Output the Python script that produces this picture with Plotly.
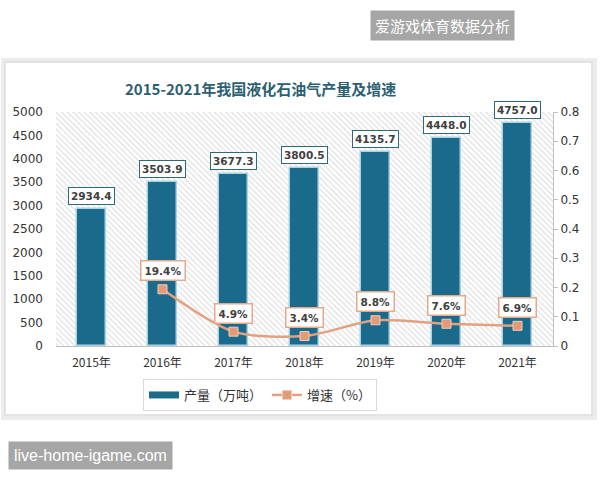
import plotly.graph_objects as go

years = ["2015年", "2016年", "2017年", "2018年", "2019年", "2020年", "2021年"]
output = [2934.4, 3503.9, 3677.3, 3800.5, 4135.7, 4448.0, 4757.0]
growth = [None, 0.194, 0.049, 0.034, 0.088, 0.076, 0.069]
growth_labels = [None, "19.4%", "4.9%", "3.4%", "8.8%", "7.6%", "6.9%"]
left_ticks = [0, 500, 1000, 1500, 2000, 2500, 3000, 3500, 4000, 4500, 5000]
right_ticks = [0, 0.1, 0.2, 0.3, 0.4, 0.5, 0.6, 0.7, 0.8]
right_tick_text = ["0", "0.1", "0.2", "0.3", "0.4", "0.5", "0.6", "0.7", "0.8"]
LEFT_MAX = 5000
RIGHT_MAX = 0.8

W, H = 600, 480
def px(x): return x / W
def py(y): return 1 - y / H

BAR = "#1a6a8c"
ORANGE = "#e4a182"
TXT = "#333333"
FONT = "Noto Sans CJK SC"

fig = go.Figure()

# hatched plot background
fig.add_trace(go.Bar(
    x=years, y=[LEFT_MAX] * len(years), width=1.0,
    marker=dict(color="white", line=dict(width=0),
                pattern=dict(shape="\\", fgcolor="#c0c0c0", bgcolor="white",
                             size=4, solidity=0.3)),
    showlegend=False, hoverinfo="skip",
))

fig.add_trace(go.Bar(
    x=years, y=output, width=0.41, name="产量（万吨）", showlegend=False,
    marker=dict(color=BAR, line=dict(color="#a9d2e2", width=1.5)),
))
# legend proxy for the bars (drawn as a thick dash like the reference)
fig.add_trace(go.Scatter(
    x=[None], y=[None], mode="lines", name="产量（万吨）",
    line=dict(color=BAR, width=7),
))

fig.add_trace(go.Scatter(
    x=years, y=growth, yaxis="y2", name="增速（%）",
    mode="lines+markers",
    line=dict(color=ORANGE, width=2.5, shape="spline", smoothing=0.8),
    marker=dict(symbol="square", size=9, color="#e29a78",
                line=dict(color="#f3cdb9", width=1)),
))

annotations = []
for yr, v in zip(years, output):
    annotations.append(dict(
        x=yr, y=v, xref="x", yref="y", text="<b>%.1f</b>" % v,
        showarrow=False, yanchor="bottom", yshift=4,
        font=dict(family="DejaVu Sans", size=10.5, color="#404040"),
        bgcolor="white", bordercolor="#2f6a7a", borderwidth=1, borderpad=2,
    ))
for yr, g, lab in zip(years, growth, growth_labels):
    if g is None:
        continue
    annotations.append(dict(
        x=yr, y=g, xref="x", yref="y2", text="<b>%s</b>" % lab,
        showarrow=False, yanchor="bottom", yshift=8,
        font=dict(family="DejaVu Sans", size=10.5, color="#404040"),
        bgcolor="white", bordercolor="#e3a98c", borderwidth=1.5, borderpad=3,
    ))

annotations.append(dict(
    x=px(260), y=py(88), xref="paper", yref="paper", xanchor="center",
    yanchor="middle",
    text="<b>2015-2021年我国液化石油气产量及增速</b>", showarrow=False,
    font=dict(family=FONT, size=15, color="#2d5f72"),
))
annotations.append(dict(
    x=px(442), y=py(25), xref="paper", yref="paper", xanchor="center",
    yanchor="middle",
    text="爱游戏体育数据分析", showarrow=False,
    font=dict(family=FONT, size=15, color="white"),
    bgcolor="#a6a6a6", borderpad=4,
))
annotations.append(dict(
    x=px(90), y=py(455), xref="paper", yref="paper", xanchor="center",
    yanchor="middle",
    text="live-home-igame.com", showarrow=False,
    font=dict(family="Liberation Sans", size=16, color="white"),
    bgcolor="#a6a6a6", borderpad=5,
))

shapes = [
    dict(type="rect", xref="paper", yref="paper", x0=px(3), x1=px(595),
         y0=py(418), y1=py(60), line=dict(color="#ececec", width=4),
         fillcolor="rgba(0,0,0,0)", layer="below"),
    dict(type="rect", xref="paper", yref="paper", x0=px(5), x1=px(592),
         y0=py(415), y1=py(62), line=dict(color="#dcdcdc", width=1.5),
         fillcolor="white", layer="below"),
]

fig.update_layout(
    width=W, height=H, margin=dict(l=0, r=0, t=0, b=0, autoexpand=False),
    paper_bgcolor="white", plot_bgcolor="rgba(0,0,0,0)",
    barmode="overlay", bargap=0,
    font=dict(family=FONT, color=TXT),
    xaxis=dict(domain=[px(56), px(553)], showgrid=False, showline=True,
               linecolor="#bfbfbf", linewidth=1, ticks="", automargin=False,
               tickfont=dict(family=FONT, size=12, color=TXT),
               ticklabelstandoff=6),
    yaxis=dict(domain=[py(346), py(112)], range=[0, LEFT_MAX], automargin=False,
               tickvals=left_ticks, showgrid=False, showline=False,
               zeroline=False, tickfont=dict(family="DejaVu Sans", size=12, color=TXT),
               ticklabelstandoff=12),
    yaxis2=dict(overlaying="y", side="right", range=[0, RIGHT_MAX], automargin=False,
                tickvals=right_ticks, ticktext=right_tick_text,
                showgrid=False, showline=True, linecolor="#bfbfbf",
                ticks="outside", ticklen=4, tickcolor="#bfbfbf", zeroline=False,
                tickfont=dict(family="DejaVu Sans", size=12, color=TXT)),
    legend=dict(orientation="h", x=px(260), y=py(395), xanchor="center",
                yanchor="middle", bgcolor="white", bordercolor="#d9d9d9",
                borderwidth=1, font=dict(family=FONT, size=13, color=TXT),
                itemwidth=30, tracegroupgap=0),
    annotations=annotations, shapes=shapes,
)

fig.write_html("out.html")
